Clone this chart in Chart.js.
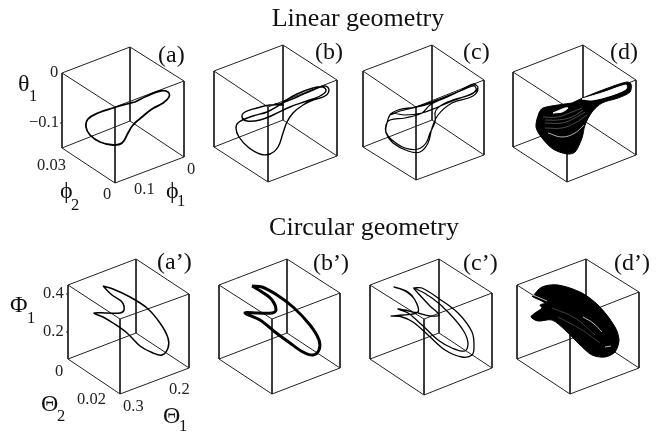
<!DOCTYPE html>
<html>
<head>
<meta charset="utf-8">
<style>
  html, body { margin: 0; padding: 0; background: #fff; }
  canvas { display: block; }
</style>
<script src="https://cdn.jsdelivr.net/npm/chart.js@4"></script>
</head>
<body>
<canvas id="grafico" width="659" height="431"></canvas>
<script>
// box corners: top A B C D, then bottom E F G H
const boxA = [[62,73],[130,47],[184,81],[115,107],[62,148],[130,121],[184,157],[115,183]];
const boxB = [[214,71],[283,45],[337,80],[268,107],[214,147],[283,120],[337,156],[268,182]];
const boxC = [[363,71],[432,45],[484,80],[416,107],[363,147],[432,120],[484,155],[416,180]];
const boxD = [[513,72],[583,45],[636,80],[567,107],[513,147],[583,120],[636,155],[567,182]];
const boxA2 = [[68,285],[136,259],[189,294],[120,319],[68,359],[136,333],[189,368],[120,394]];
const boxB2 = [[219,285],[287,259],[340,293],[272,319],[219,359],[287,333],[340,368],[272,394]];
const boxC2 = [[370,285],[439,259],[492,293],[424,319],[370,359],[439,333],[492,368],[424,395]];
const boxD2 = [[517,285],[586,259],[639,292],[570,319],[517,359],[586,333],[639,368],[570,394]];

// trajectories
const curveA = [[135,102],[147,96],[160,91],[168,92],[169,97],[163,103],[152,109],[142,117],[133,125],[128,133],[122,143],[113,145],[100,142],[90,135],[86,127],[88,119],[98,113],[113,108],[127,104],[135,102]];
const curveB = [[280,104],[297,97],[313,90],[325,86],[329,90],[325,96],[313,100],[303,105],[293,113],[287,122],[283,133],[278,147],[270,154],[260,154],[248,147],[239,137],[236,128],[239,122],[253,116],[267,112],[278,106],[283,102],[297,94],[313,88],[323,87],[326,91],[320,96],[307,101],[290,107],[273,115],[260,120],[247,121],[242,117],[245,112],[257,108],[270,105],[283,105],[275,104],[280,104]];
const curveC = [[422,106],[440,100],[458,92],[473,84],[478,88],[473,96],[452,103],[438,115],[432,128],[428,143],[420,152],[408,151],[393,143],[386,133],[386,125],[390,120],[405,118],[422,113],[430,105],[447,97],[465,89],[474,86],[476,90],[470,95],[450,101],[436,110],[435,122],[430,133],[426,143],[418,149],[405,148],[392,140],[386,132],[387,123],[390,115],[398,110],[415,107],[428,103],[442,98],[462,90],[475,85],[478,88],[473,93],[455,100],[438,107],[422,113],[405,115],[392,113],[390,115],[400,111],[422,106]];
const curveA2 = [[103,286],[113,289],[130,297],[147,308],[160,323],[168,338],[168,348],[162,355],[153,353],[140,346],[127,333],[113,323],[103,317],[94,313],[107,313],[120,313],[124,310],[122,302],[112,295],[103,286]];
const curveB2 = [[252,286],[262,287],[277,295],[293,307],[310,325],[319,340],[319,350],[313,355],[303,352],[290,343],[275,332],[260,320],[245,313],[258,313],[272,313],[276,310],[272,300],[262,292],[252,286]];
const curveC2 = [[414,288],[422,288],[438,298],[458,313],[472,332],[474,347],[472,355],[462,357],[445,350],[428,335],[413,322],[402,317],[391,316],[403,315],[418,312],[415,300],[408,292],[394,287],[405,291],[415,300],[418,312],[405,310],[398,309],[408,313],[422,325],[438,340],[452,348],[465,351],[468,343],[463,330],[448,312],[432,298],[414,288],[417,292],[430,306],[439,315],[430,316],[418,313]];

// dense panels: silhouette, holes and the thin gaps between the windings
const outlineD = [[572,103],[585,97],[608,88],[627,82],[631,84],[630,92],[618,98],[602,103],[592,112],[585,125],[582,138],[575,152],[567,154],[553,149],[542,138],[536,127],[539,113],[543,108],[558,105],[572,103]];
const holeD = [[582,99],[605,92],[626,85],[626,89],[612,95],[592,100],[582,99]];
const notchD = [[553,113],[565,108],[568,108],[562,112],[553,113]];
const gapsD = [
  [[545,120],[558,120],[572,117],[583,110]],
  [[545,123],[562,123],[575,118],[585,112]],
  [[543,117],[558,117],[572,112],[582,108]],
  [[545,128],[562,128],[575,123],[587,115]]
];
const brightD = [[548,133],[562,137],[575,133],[584,125]];
const outlineD2 = [[532,297],[542,287],[558,285],[582,293],[600,307],[615,327],[619,340],[615,352],[605,357],[592,355],[578,343],[565,330],[552,320],[538,321],[531,317],[535,313],[542,308],[540,305],[545,303],[533,297]];
const gapsD2 = [
  [[558,317],[582,330],[600,343]],
  [[552,308],[575,318],[595,335]]
];
const brightD2 = [
  [[583,317],[593,323],[602,332]],
  [[605,347],[611,346]],
  [[533,295],[540,298],[547,301]]
];

// small ticks on the left edge of (a) and (a')
const tickMarks = [[[60,123],[62,123]],[[66,294],[68,294]],[[66,332],[68,332]]];

// text
const titulos = ['Linear geometry', 'Circular geometry'];
const titulosPos = [[358,26],[364,235]];
const paineis = ['(a)','(b)','(c)','(d)','(a’)','(b’)','(c’)','(d’)'];
const paineisPos = [[158,62],[315,59],[463,59],[610,59],[157,269],[313,270],[463,270],[614,270]];
const ticks = ['0','−0.1','0.03','0','0.1','0','0.4','0.2','0','0.02','0.3','0.2'];
const ticksPos = [[50,77],[29,127],[37,170],[103,199],[134,194],[187,174],[43,298],[43,336],[55,376],[77,404],[123,411],[169,394]];
const simbolos = ['θ','ϕ','ϕ','Φ','Θ','Θ'];
const simbolosPos = [[18,91],[60,198],[166,198],[10,312],[41,411],[163,423]];
const indices = ['1','2','1','1','2','1'];
const indicesPos = [[29,101],[71,210],[177,206],[27,323],[57,421],[179,431]];

// walks the 12 edges of a box, null breaks the line
function arestas(b) {
  const ordem = [0,1,2,3,0,4,5,6,7,4,null,1,5,null,2,6,null,3,7];
  return ordem.map(i => i === null ? { x: null, y: null } : { x: b[i][0], y: b[i][1] });
}
const pts = arr => arr.map(p => ({ x: p[0], y: p[1] }));

const datasets = [];
function adiciona(data, opts) {
  datasets.push(Object.assign({
    data, showLine: true, pointRadius: 0, borderColor: '#000', borderWidth: 1,
    tension: 0, fill: false, spanGaps: false, clip: false, order: -datasets.length
  }, opts));
}

// boxes first, the dense shapes cover them
[boxA, boxB, boxC, boxD, boxA2, boxB2, boxC2, boxD2].forEach(b => adiciona(arestas(b), { borderColor: '#222' }));
tickMarks.forEach(t => adiciona(pts(t), { borderColor: '#222' }));

adiciona(pts(outlineD), { backgroundColor: '#000', fill: 'shape', tension: 0.3 });
adiciona(pts(holeD), { backgroundColor: '#fff', borderColor: '#fff', fill: 'shape', tension: 0.3 });
adiciona(pts(notchD), { backgroundColor: '#fff', borderColor: '#fff', fill: 'shape', tension: 0.3 });
gapsD.forEach(g => adiciona(pts(g), { borderColor: '#999', borderWidth: 0.5, tension: 0.4 }));
adiciona(pts(brightD), { borderColor: '#ddd', borderWidth: 0.8, tension: 0.4 });
adiciona(pts(outlineD2), { backgroundColor: '#000', fill: 'shape', tension: 0.3 });
gapsD2.forEach(g => adiciona(pts(g), { borderColor: '#777', borderWidth: 0.5, tension: 0.4 }));
brightD2.forEach(g => adiciona(pts(g), { borderColor: '#eee', borderWidth: 0.8, tension: 0.4 }));

adiciona(pts(curveA), { borderWidth: 1.8, tension: 0.4 });
adiciona(pts(curveB), { borderWidth: 1.4, tension: 0.4 });
adiciona(pts(curveC), { borderWidth: 1.2, tension: 0.4 });
adiciona(pts(curveA2), { borderWidth: 1.5, tension: 0.35 });
adiciona(pts(curveB2), { borderWidth: 3, tension: 0.35 });
adiciona(pts(curveC2), { borderWidth: 1.3, tension: 0.35 });

const textos = {
  id: 'textos',
  afterDraw(chart) {
    const { ctx, scales } = chart;
    const escreve = (lista, pos, fonte, cor, alinhar) => {
      ctx.font = fonte;
      ctx.fillStyle = cor;
      ctx.textAlign = alinhar;
      ctx.textBaseline = 'alphabetic';
      lista.forEach((t, i) => {
        ctx.fillText(t, scales.x.getPixelForValue(pos[i][0]), scales.y.getPixelForValue(pos[i][1]));
      });
    };
    ctx.save();
    escreve(titulos, titulosPos, '26px "Liberation Serif"', '#111', 'center');
    escreve(paineis, paineisPos, '24px "Liberation Serif"', '#111', 'left');
    escreve(ticks, ticksPos, '16.5px "Liberation Serif"', '#222', 'left');
    escreve(simbolos, simbolosPos, '24px "Liberation Serif"', '#111', 'left');
    escreve(indices, indicesPos, '16.5px "Liberation Serif"', '#111', 'left');
    ctx.restore();
  }
};

new Chart(document.getElementById('grafico').getContext('2d'), {
  type: 'scatter',
  data: { datasets },
  options: {
    responsive: false,
    animation: false,
    layout: { padding: 0 },
    plugins: { legend: { display: false }, tooltip: { enabled: false } },
    scales: {
      x: { type: 'linear', display: false, min: 0, max: 659 },
      y: { type: 'linear', display: false, min: 0, max: 431, reverse: true }
    }
  },
  plugins: [textos]
});
</script>
</body>
</html>
